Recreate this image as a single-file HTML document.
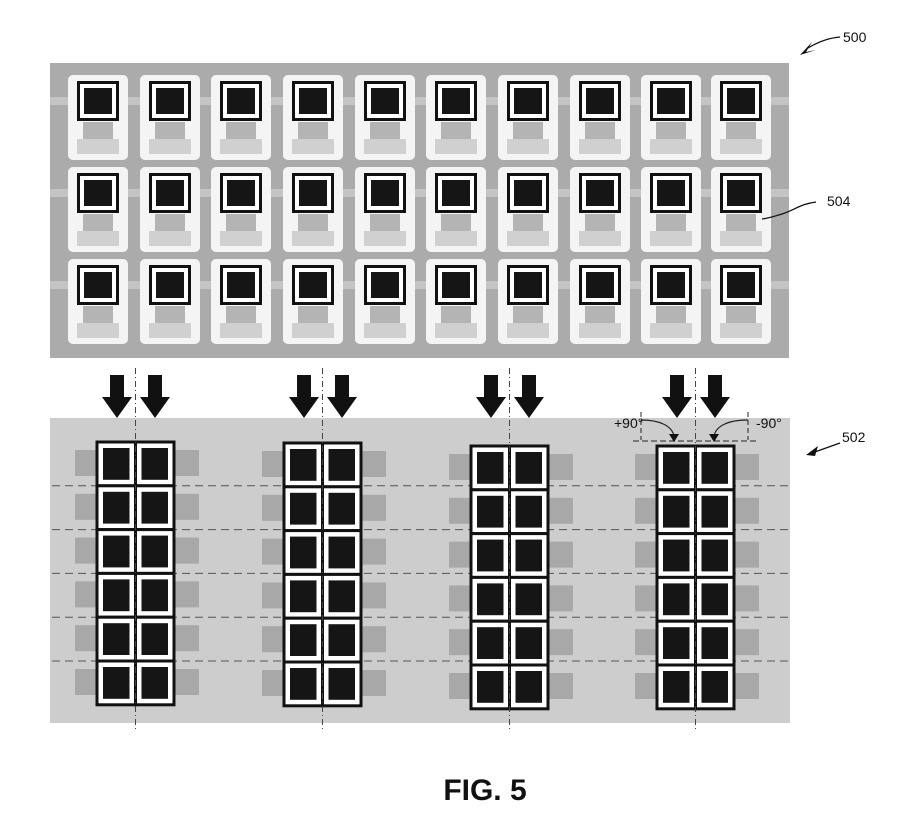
<!DOCTYPE html>
<html><head><style>
html,body{margin:0;padding:0;background:#fff;}
svg{display:block;font-family:"Liberation Sans",sans-serif;}
</style></head><body>
<svg id="s" width="922" height="817" viewBox="0 0 922 817" xmlns="http://www.w3.org/2000/svg">
<rect x="50" y="63" width="739" height="295" fill="#ababab"/>
<rect x="50" y="418" width="740" height="305" fill="#cdcdcd"/>
<g id="gtop"></g>
<g id="gbot"></g>
<g id="garr"></g>
<path d="M840,37 C828,38 818,42 808,48" stroke="#111" stroke-width="1.3" fill="none"/>
<path d="M800,55 L812,42 L806,52 L816,50 z" fill="#111"/>
<text x="843" y="42" font-size="14" fill="#111">500</text>
<path d="M816,202 C800,204 795,210 782,214 C775,216 770,218 762,219" stroke="#111" stroke-width="1.3" fill="none"/>
<text x="827" y="206" font-size="14" fill="#111">504</text>
<path d="M840,443 L812,453" stroke="#111" stroke-width="1.3"/>
<path d="M806,455 L818,446 L815,456 z" fill="#111"/>
<text x="842" y="442" font-size="14" fill="#111">502</text>
<text x="614" y="428" font-size="14" fill="#111">+90°</text>
<text x="756" y="428" font-size="14" fill="#111">-90°</text>
<text x="485" y="800" font-size="30" font-weight="bold" text-anchor="middle" fill="#111">FIG. 5</text>
</svg>
<script>
(function(){
var NS="http://www.w3.org/2000/svg";
function el(p,t,a){var e=document.createElementNS(NS,t);for(var k in a)e.setAttribute(k,a[k]);p.appendChild(e);return e;}
var gt=document.getElementById('gtop');
var cx=[98,170,241,313,385,456,528,600,671,741];
var cy=[101,193,285];
cy.forEach(function(y){el(gt,'rect',{x:50,y:y-4,width:739,height:8,fill:'#c4c4c4'});});
cy.forEach(function(y){cx.forEach(function(x){
 el(gt,'rect',{x:x-30,y:y-26,width:60,height:85,rx:5,fill:'#f4f4f4'});
 el(gt,'rect',{x:x-15,y:y+21,width:30,height:18,fill:'#b4b4b4'});
 el(gt,'rect',{x:x-21,y:y+38,width:42,height:15,fill:'#d0d0d0'});
 el(gt,'rect',{x:x-19.5,y:y-18.5,width:39,height:37,fill:'#fff',stroke:'#111',"stroke-width":3});
 el(gt,'rect',{x:x-14,y:y-13,width:28,height:26,fill:'#151515'});
});});
var gb=document.getElementById('gbot');
var gx=[97,284,471,657], gy=[442,443,446,446];
for(var r=1;r<6;r++){var yy=442+r*43.8;el(gb,'line',{x1:52,y1:yy,x2:788,y2:yy,stroke:'#555',"stroke-width":1,"stroke-dasharray":"8,5"});}
for(var g=0;g<4;g++){
 var x0=gx[g],y0=gy[g],h=43.8;
 for(var rr=0;rr<6;rr++){
  var y=y0+rr*h;
  el(gb,'rect',{x:x0-22,y:y+8,width:22,height:26,fill:'#a8a8a8'});
  el(gb,'rect',{x:x0+78,y:y+8,width:24,height:26,fill:'#a8a8a8'});
  for(var c=0;c<2;c++){
   var x=x0+c*38.5;
   el(gb,'rect',{x:x,y:y,width:38.5,height:h,fill:'#fff',stroke:'#111',"stroke-width":3});
   el(gb,'rect',{x:x+6,y:y+6,width:26.5,height:h-12,fill:'#151515'});
  }
 }
 var vx=x0+38.5;
 el(gb,'line',{x1:vx,y1:368,x2:vx,y2:732,stroke:'#444',"stroke-width":1,"stroke-dasharray":"6,3,1,3"});
}
var ga=document.getElementById('garr');
for(var g2=0;g2<4;g2++){
 [gx[g2]+20,gx[g2]+58].forEach(function(ax){
  el(ga,'path',{d:'M'+(ax-7)+',375 L'+(ax+7)+',375 L'+(ax+7)+',397 L'+(ax+15)+',397 L'+ax+',418 L'+(ax-15)+',397 L'+(ax-7)+',397 z',fill:'#111'});
 });
}
el(ga,'line',{x1:641,y1:412,x2:641,y2:440,stroke:'#222',"stroke-dasharray":"5,3"});
el(ga,'line',{x1:748,y1:412,x2:748,y2:440,stroke:'#222',"stroke-dasharray":"5,3"});
el(ga,'line',{x1:633,y1:441,x2:756,y2:441,stroke:'#222',"stroke-dasharray":"6,3"});
el(ga,'path',{d:'M641,420 C660,420 672,426 674,436',stroke:'#222',fill:'none',"stroke-width":1.2});
el(ga,'path',{d:'M748,420 C728,420 716,426 714,436',stroke:'#222',fill:'none',"stroke-width":1.2});
el(ga,'path',{d:'M669,434 L679,434 L674,442 z',fill:'#111'});
el(ga,'path',{d:'M709,434 L719,434 L714,442 z',fill:'#111'});
})();
</script>
</body></html>
